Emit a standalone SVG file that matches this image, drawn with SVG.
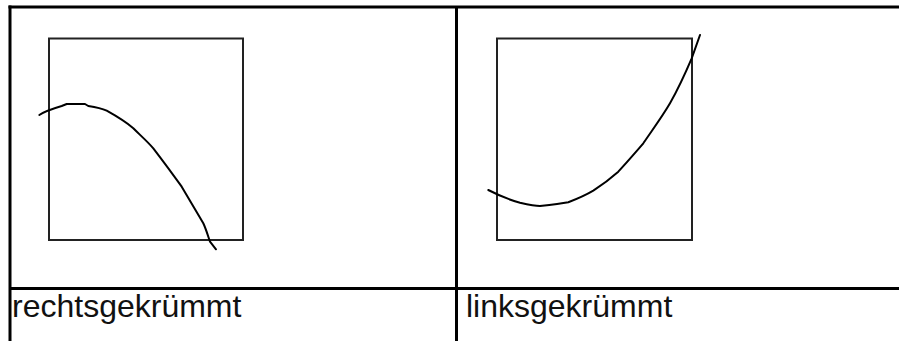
<svg xmlns="http://www.w3.org/2000/svg" width="899" height="341" viewBox="0 0 899 341">
<style>
.grid{stroke:#000;stroke-width:3;fill:none}
.box{stroke:#222;stroke-width:2;fill:none}
.curve{stroke:#000;stroke-width:2;fill:none;stroke-linejoin:round;stroke-linecap:round}
.lbl{font-family:"Liberation Sans",Arial,sans-serif;font-size:32px;fill:#111}
</style>
<rect width="899" height="341" fill="#fff"/>
<g id="table" class="grid">
<line x1="8.5" y1="7" x2="899" y2="7"/>
<line x1="10" y1="5.5" x2="10" y2="341"/>
<line x1="456.5" y1="7" x2="456.5" y2="341"/>
<line x1="10" y1="288.5" x2="899" y2="288.5"/>
</g>
<g id="cell-rechts">
<rect class="box" x="49" y="38.5" width="194" height="201.5"/>
<path class="curve" d="M39.3,115 C45,111 55,108 61.7,106 L66.7,104 L85,104 L88.3,106 C95,107 101,108 106.7,110.7 C118,117 126,122 133.3,128.3 C140,135 147,141 153.3,148.3 C163,161 172,173 181.7,186.7 C189,199 196,211 203.3,223.3 C206,229 208,236 210,241.7 L216,249.3"/>
<text class="lbl" x="12" y="316.5">rechtsgekrümmt</text>
</g>
<g id="cell-links">
<rect class="box" x="497" y="38.5" width="195" height="201.5"/>
<path class="curve" d="M488.3,190 C496,194 510,200 520,202.7 C528,204.5 535,206 540,206 C550,205 560,204 568.3,202.3 C577,199 586,195 593.3,190.7 C602,185 610,179 618.3,171.7 C627,162 635,153 643.3,143.3 C653,129 662,117 670,103.3 C678,89 685,74 691.7,58.3 L700,35"/>
<text class="lbl" x="466" y="316.5">linksgekrümmt</text>
</g>
</svg>
